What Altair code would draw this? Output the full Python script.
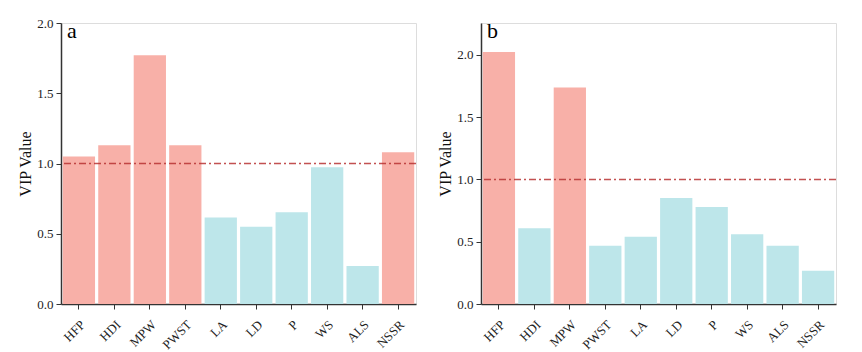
import altair as alt
import pandas as pd

factors = ["HFP", "HDI", "MPW", "PWST", "LA", "LD", "P", "WS", "ALS", "NSSR"]
vip_a = [1.05, 1.13, 1.77, 1.13, 0.615, 0.55, 0.653, 0.974, 0.271, 1.08]
vip_b = [2.025, 0.608, 1.738, 0.468, 0.54, 0.852, 0.78, 0.561, 0.468, 0.267]
threshold = 1.0

HIGH = "#F8B0A8"
LOW = "#BDE6EA"
FONT = "Liberation Serif"


def panel(values, letter, ymax, yticks):
    df = pd.DataFrame({"factor": factors, "vip": values})
    df["grp"] = ["high" if v > threshold else "low" for v in values]
    base = alt.Chart(df)
    bars = base.mark_bar().encode(
        x=alt.X("factor:N", sort=factors, title=None,
                scale=alt.Scale(paddingInner=0.09, paddingOuter=0.05),
                axis=alt.Axis(labelAngle=315, labelAlign="right", labelBaseline="top",
                              labelFont=FONT, labelFontSize=13, labelColor="#222",
                              tickSize=5, tickColor="#333", domainColor="#333",
                              domainWidth=1.5, labelPadding=9)),
        y=alt.Y("vip:Q", title="VIP Value",
                scale=alt.Scale(domain=[0, ymax], nice=False, zero=True),
                axis=alt.Axis(values=yticks, format=".1f",
                              labelExpr="(round(datum.value*100) % 50 == 0) ? format(datum.value, '.1f') : ''",
                              tickSize={"condition": {"test": "round(datum.value*100) % 50 == 0", "value": 5}, "value": 3},
                              grid=False, labelFont=FONT, labelFontSize=13, labelColor="#222",
                              titleFont=FONT, titleFontSize=16, titleFontWeight="normal",
                              titleColor="#111", tickColor="#333", domainColor="#333",
                              domainWidth=1.5, labelPadding=3, titlePadding=3)),
        color=alt.Color("grp:N", scale=alt.Scale(domain=["high", "low"], range=[HIGH, LOW]),
                        legend=None),
    )
    rule = alt.Chart(pd.DataFrame({"t": [threshold]})).mark_rule(
        color="#B83232", strokeWidth=1.4, strokeDash=[7, 3, 2, 3], opacity=0.85
    ).encode(y="t:Q")
    label = alt.Chart(pd.DataFrame({"l": [letter]})).mark_text(
        font=FONT, fontSize=22, align="left", baseline="top", color="#000"
    ).encode(text="l:N", x=alt.value(6), y=alt.value(-2))
    return (bars + rule + label).properties(width=355, height=281)


ticks_a = [0, 0.25, 0.5, 0.75, 1.0, 1.25, 1.5, 1.75, 2.0]
ticks_b = [0, 0.25, 0.5, 0.75, 1.0, 1.25, 1.5, 1.75, 2.0]

chart = alt.hconcat(
    panel(vip_a, "a", 2.0, ticks_a),
    panel(vip_b, "b", 2.257, ticks_b),
    spacing=19,
).configure_view(stroke="#444", strokeWidth=1.3).properties(
    padding={"left": 17, "top": 16, "right": 2, "bottom": 2}
).configure(background="white")

chart.save("out.html", embed_options={"renderer": "svg", "actions": False})
